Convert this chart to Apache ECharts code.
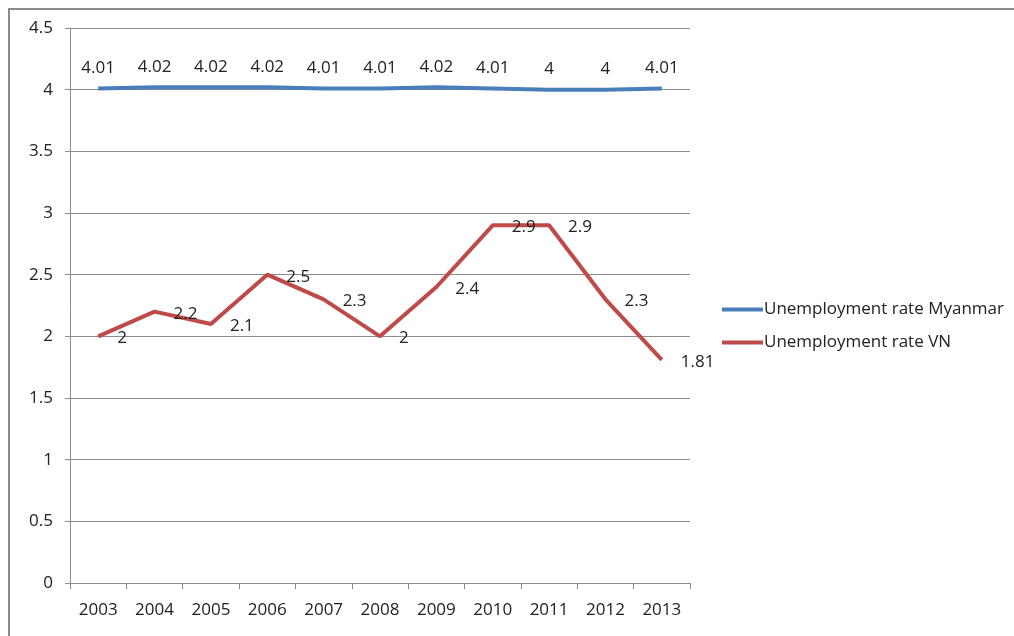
<!DOCTYPE html>
<html><head><meta charset="utf-8">
<script src="https://cdn.jsdelivr.net/npm/echarts@6/dist/echarts.min.js"></script>
<style>html,body{margin:0;padding:0;background:#fff}#c{width:1014px;height:636px}</style>
</head><body><div id="c"></div>
<script>
const years = ['2003','2004','2005','2006','2007','2008','2009','2010','2011','2012','2013'];
const myanmar = [4.01,4.02,4.02,4.02,4.01,4.01,4.02,4.01,4,4,4.01];
const vn = [2,2.2,2.1,2.5,2.3,2,2.4,2.9,2.9,2.3,1.81];
const seriesNames = ['Unemployment rate Myanmar','Unemployment rate VN'];

const FONT = 'Open Sans';
const TXT = '#222';
const FS = 17;
const chart = echarts.init(document.getElementById('c'));
chart.setOption({
  animation:false,
  textStyle:{fontFamily:FONT},
  graphic:[{type:'rect',shape:{x:9,y:9,width:1100,height:700},style:{fill:'none',stroke:'#8a8a8a',lineWidth:2},silent:true}],
  grid:{left:70,right:324,top:28,bottom:53},
  legend:{orient:'vertical',left:717,top:296,itemWidth:41,itemHeight:4,itemGap:16,icon:'rect',
    textStyle:{fontFamily:FONT,fontSize:FS,color:TXT,padding:[0,0,0,-4]},data:seriesNames},
  xAxis:{type:'category',data:years,boundaryGap:true,
    axisLine:{lineStyle:{color:'#8c8c8c',width:1}},
    axisTick:{show:true,length:6,interval:0,lineStyle:{color:'#8c8c8c'}},
    axisLabel:{fontFamily:FONT,fontSize:FS,color:TXT,margin:19}},
  yAxis:{type:'value',min:0,max:4.5,interval:0.5,
    axisLine:{show:true,lineStyle:{color:'#8c8c8c'}},
    axisTick:{show:true,length:5,lineStyle:{color:'#8c8c8c'}},
    splitLine:{lineStyle:{color:'#8c8c8c',width:1}},
    axisLabel:{fontFamily:FONT,fontSize:FS,color:TXT,margin:17}},
  series:[
    {name:seriesNames[0],type:'line',data:myanmar,symbol:'circle',symbolSize:0,showSymbol:true,
      lineStyle:{color:'#4a7ebb',width:4},itemStyle:{color:'#4a7ebb'},
      label:{show:true,position:'top',distance:12,fontFamily:FONT,fontSize:FS,color:TXT}},
    {name:seriesNames[1],type:'line',data:vn,symbol:'circle',symbolSize:0,showSymbol:true,
      lineStyle:{color:'#be4b48',width:4},itemStyle:{color:'#be4b48'},
      label:{show:true,position:'right',distance:19,offset:[0,2],fontFamily:FONT,fontSize:FS,color:TXT}}
  ]
});
</script></body></html>
